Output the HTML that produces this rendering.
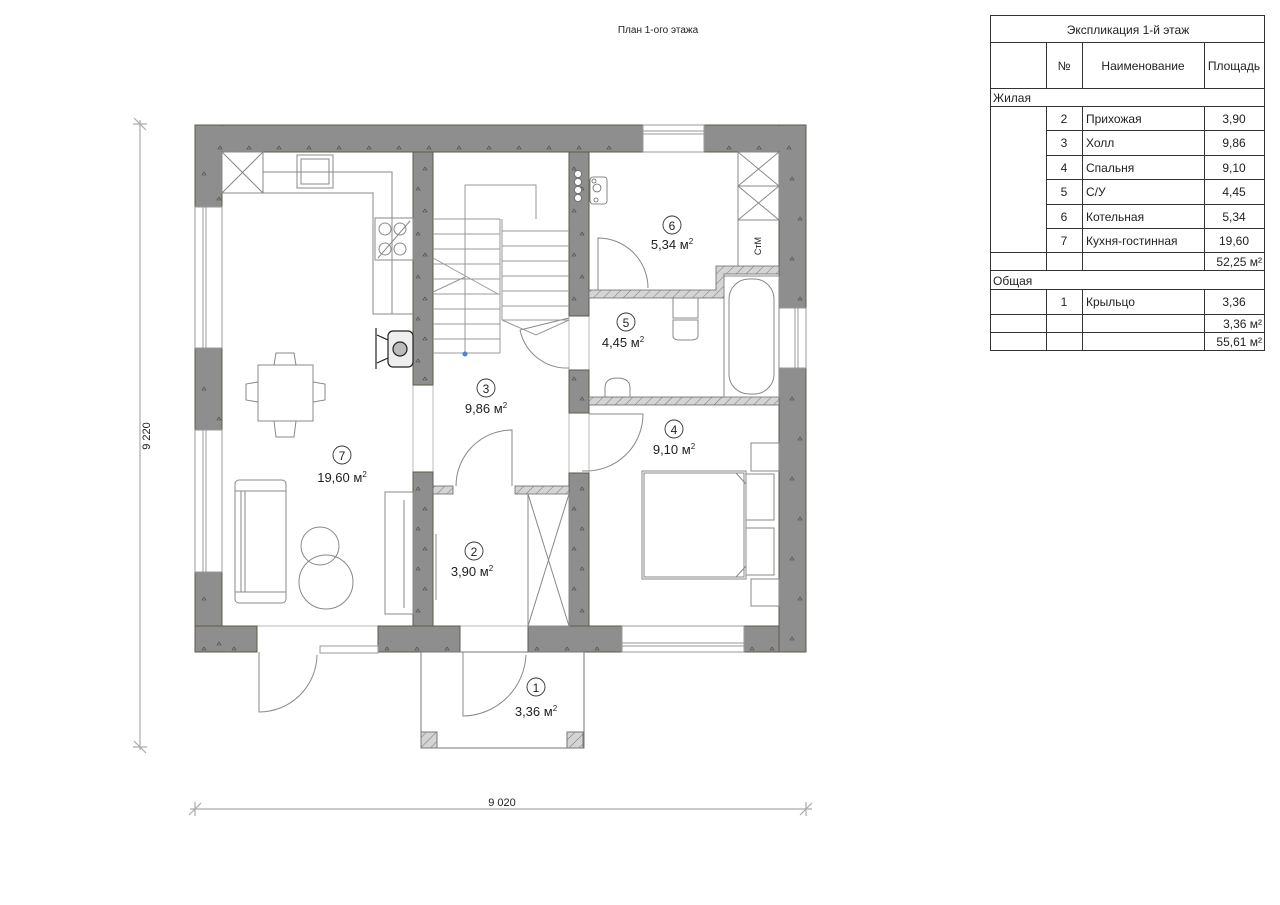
<!DOCTYPE html>
<html><head><meta charset="utf-8">
<style>
html,body{margin:0;padding:0;background:#fff;}
svg{display:block;font-family:"Liberation Sans","DejaVu Sans",sans-serif;}
</style></head>
<body>
<svg width="1280" height="905" viewBox="0 0 1280 905" xmlns="http://www.w3.org/2000/svg">
<defs>
<pattern id="h" width="7" height="7" patternUnits="userSpaceOnUse" patternTransform="rotate(45)">
<rect width="7" height="7" fill="#d4d4d4"/><line x1="0" y1="0" x2="0" y2="7" stroke="#777" stroke-width="1"/>
</pattern>
</defs>
<rect width="1280" height="905" fill="#fff"/>
<text x="658" y="33" font-size="10" text-anchor="middle" fill="#222">План 1-ого этажа</text>

<!-- dimension lines -->
<g stroke="#aaa" stroke-width="1.2" fill="none">
<line x1="140" y1="120" x2="140" y2="750"/>
<line x1="134" y1="118" x2="146" y2="130"/><line x1="134" y1="741" x2="146" y2="753"/>
<line x1="133" y1="124" x2="147" y2="124"/><line x1="133" y1="747" x2="147" y2="747"/>
<line x1="190" y1="809" x2="812" y2="809"/>
<line x1="189" y1="815" x2="201" y2="803"/><line x1="800" y1="815" x2="812" y2="803"/>
<line x1="195" y1="802" x2="195" y2="816"/><line x1="806" y1="802" x2="806" y2="816"/>
</g>
<text x="150" y="436" font-size="11" fill="#222" text-anchor="middle" transform="rotate(-90 150 436)">9 220</text>
<text x="502" y="806" font-size="11" fill="#222" text-anchor="middle">9 020</text>

<!-- floor thin outlines -->
<g stroke="#bbb" stroke-width="1" fill="none">
<line x1="222" y1="626" x2="779" y2="626"/>
<line x1="413" y1="385" x2="413" y2="472"/>
<line x1="569" y1="316" x2="569" y2="370"/>
<line x1="569" y1="413" x2="569" y2="473"/>
<line x1="589" y1="316" x2="589" y2="370"/>
<line x1="589" y1="413" x2="589" y2="473"/>
<line x1="433" y1="385" x2="433" y2="472"/>
</g>

<!-- walls -->
<g fill="#8e8e8e" stroke="#5e5a48" stroke-width="1">
<rect x="195" y="125" width="448" height="27"/>
<rect x="704" y="125" width="102" height="27"/>
<rect x="195" y="125" width="27" height="82"/>
<rect x="195" y="348" width="27" height="82"/>
<rect x="195" y="572" width="27" height="80"/>
<rect x="195" y="626" width="62" height="26"/>
<rect x="378" y="626" width="82" height="26"/>
<rect x="528" y="626" width="94" height="26"/>
<rect x="744" y="626" width="62" height="26"/>
<rect x="779" y="125" width="27" height="183"/>
<rect x="779" y="368" width="27" height="284"/>
<rect x="413" y="152" width="20" height="233"/>
<rect x="413" y="472" width="20" height="154"/>
<rect x="569" y="152" width="20" height="164"/>
<rect x="569" y="370" width="20" height="43"/>
<rect x="569" y="473" width="20" height="153"/>
</g>
<g fill="#8e8e8e">
<rect x="196" y="126" width="446" height="25"/><rect x="705" y="126" width="100" height="25"/>
<rect x="196" y="126" width="25" height="80"/><rect x="780" y="126" width="25" height="181"/>
<rect x="196" y="627" width="25" height="24"/><rect x="780" y="627" width="25" height="24"/>
</g>
<!-- triangle marks on walls -->
<g fill="none" stroke="#444" stroke-width="0.6" font-size="6">
<path d="M218 149l2-3 2 3z M247 149l2-3 2 3z M277 149l2-3 2 3z M307 149l2-3 2 3z M337 149l2-3 2 3z M367 149l2-3 2 3z M397 149l2-3 2 3z M427 149l2-3 2 3z M457 149l2-3 2 3z M487 149l2-3 2 3z M517 149l2-3 2 3z M547 149l2-3 2 3z M577 149l2-3 2 3z M607 149l2-3 2 3z M727 149l2-3 2 3z M757 149l2-3 2 3z M787 149l2-3 2 3z"/>
<path d="M202 175l2-3 2 3z M202 390l2-3 2 3z M202 600l2-3 2 3z M217 200l2-3 2 3z M217 420l2-3 2 3z M217 645l2-3 2 3z M790 180l2-3 2 3z M798 220l2-3 2 3z M790 260l2-3 2 3z M798 300l2-3 2 3z M790 400l2-3 2 3z M798 440l2-3 2 3z M790 480l2-3 2 3z M798 520l2-3 2 3z M790 560l2-3 2 3z M798 600l2-3 2 3z M790 640l2-3 2 3z"/>
<path d="M423 170l2-3 2 3z M416 190l2-3 2 3z M423 212l2-3 2 3z M416 235l2-3 2 3z M423 256l2-3 2 3z M416 278l2-3 2 3z M423 300l2-3 2 3z M416 320l2-3 2 3z M423 340l2-3 2 3z M416 362l2-3 2 3z M423 380l2-3 2 3z M416 490l2-3 2 3z M423 510l2-3 2 3z M416 530l2-3 2 3z M423 550l2-3 2 3z M416 570l2-3 2 3z M423 590l2-3 2 3z M416 612l2-3 2 3z"/>
<path d="M572 170l2-3 2 3z M580 190l2-3 2 3z M572 212l2-3 2 3z M580 235l2-3 2 3z M572 256l2-3 2 3z M580 278l2-3 2 3z M572 300l2-3 2 3z M572 380l2-3 2 3z M580 400l2-3 2 3z M580 490l2-3 2 3z M572 510l2-3 2 3z M580 530l2-3 2 3z M572 550l2-3 2 3z M580 570l2-3 2 3z M572 590l2-3 2 3z M580 612l2-3 2 3z"/>
<path d="M202 650l2-3 2 3z M232 650l2-3 2 3z M385 650l2-3 2 3z M415 650l2-3 2 3z M445 650l2-3 2 3z M535 650l2-3 2 3z M565 650l2-3 2 3z M595 650l2-3 2 3z M750 650l2-3 2 3z M770 650l2-3 2 3z"/>
</g>

<!-- windows -->
<g stroke="#999" stroke-width="1" fill="#fff">
<rect x="643" y="125" width="61" height="27"/>
<line x1="643" y1="131" x2="704" y2="131"/><line x1="643" y1="134" x2="704" y2="134"/>
<rect x="195" y="207" width="27" height="141"/>
<line x1="203" y1="207" x2="203" y2="348"/><line x1="206" y1="207" x2="206" y2="348"/>
<rect x="195" y="430" width="27" height="142"/>
<line x1="203" y1="430" x2="203" y2="572"/><line x1="206" y1="430" x2="206" y2="572"/>
<rect x="779" y="308" width="27" height="60"/>
<line x1="795" y1="308" x2="795" y2="368"/><line x1="798" y1="308" x2="798" y2="368"/>
<rect x="622" y="626" width="122" height="26"/>
<line x1="622" y1="643" x2="744" y2="643"/><line x1="622" y1="646" x2="744" y2="646"/>
<rect x="320" y="646" width="58" height="7"/>
</g>

<!-- hatched partitions -->
<g fill="url(#h)" stroke="#666" stroke-width="0.8">
<path d="M589 290 H716 V266 H779 V274 H724 V298 H589 Z"/>
<rect x="589" y="397" width="190" height="8"/>
<rect x="433" y="486" width="20" height="8"/>
<rect x="515" y="486" width="54" height="8"/>
</g>

<!-- porch -->
<g stroke="#777" stroke-width="1" fill="none">
<rect x="421" y="652" width="163" height="96"/>
<rect x="421" y="732" width="16" height="16" fill="url(#h)"/>
<rect x="567" y="732" width="16" height="16" fill="url(#h)"/>
</g>

<!-- doors -->
<g stroke="#888" stroke-width="1" fill="none">
<path d="M259 652 V712 A58 58 0 0 0 317 655"/>
<path d="M463 652 V716 A64 64 0 0 0 526 655"/>
<path d="M512 486 V430 A56 56 0 0 0 456 486"/>
<path d="M598 290 V238 A50 50 0 0 1 648 288"/>
<path d="M520 330 L569 318 M520 330 A48 48 0 0 0 569 368"/>
<path d="M589 471 H582 M589 414 H643 A57 57 0 0 1 584 471"/>
</g>

<!-- kitchen -->
<g stroke="#888" stroke-width="1" fill="none">
<rect x="222" y="152" width="41" height="41"/>
<path d="M222 152 L263 193 M263 152 L222 193"/>
<path d="M263 172 H392 V314 M263 193 H373 V314 H413"/>
<rect x="297" y="155" width="36" height="33"/><rect x="301" y="159" width="28" height="25"/>
<rect x="375" y="218" width="38" height="42"/>
<circle cx="385" cy="229" r="6"/><circle cx="400" cy="229" r="6"/><circle cx="385" cy="249" r="6"/><circle cx="400" cy="249" r="6"/>
<line x1="378" y1="258" x2="410" y2="221"/>
</g>
<!-- fireplace -->
<g stroke="#222" stroke-width="1.2" fill="#eee">
<rect x="388" y="331" width="25" height="36" rx="5"/>
<line x1="376" y1="328" x2="376" y2="369"/>
<path d="M377 335 L388 340 M377 363 L388 358" fill="none"/>
<circle cx="400" cy="349" r="7" fill="#bbb"/>
</g>

<!-- stairs -->
<g stroke="#999" stroke-width="1" fill="none">
<path d="M465 353 V185 H536 V219"/>
<path d="M500 219 V353 M433 219 H500"/>
<path d="M433 234H500M433 249H500M433 264H500M433 279H500M433 294H500M433 309H500M433 324H500M433 339H500M433 353H500"/>
<path d="M502 231H569M502 246H569M502 261H569M502 276H569M502 291H569M502 306H569M502 320H569"/>
<path d="M502 219 V320 M502 320 L536 335 L569 320"/>
<path d="M433 258 L498 294 M433 292 L465 277"/>
</g>
<circle cx="465" cy="354" r="2.5" fill="#4a86d8"/>
<!-- boiler stuff -->
<g fill="#fff" stroke="#666" stroke-width="0.8">
<circle cx="578" cy="174" r="3.5"/><circle cx="578" cy="182" r="3.5"/><circle cx="578" cy="190" r="3.5"/><circle cx="578" cy="198" r="3.5"/>
<rect x="590" y="177" width="17" height="27" rx="3"/>
<circle cx="597" cy="188" r="4"/><circle cx="596" cy="200" r="2"/><circle cx="594" cy="181" r="2"/>
</g>
<g stroke="#888" stroke-width="1" fill="none">
<rect x="738" y="152" width="41" height="68"/><line x1="738" y1="186" x2="779" y2="186"/>
<path d="M738 152 L779 186 M779 152 L738 186 M738 186 L779 220 M779 186 L738 220"/>
<path d="M738 220 V266"/>
<!-- bath -->
<rect x="724" y="276" width="55" height="121"/>
<rect x="729" y="279" width="45" height="115" rx="20"/>
<!-- toilet -->
<path d="M673 298 H698 V318 H673 Z M673 320 H698 V336 Q698 340 690 340 H680 Q673 340 673 336 Z"/>
<!-- sink -->
<path d="M605 397 V388 Q605 378 617 378 Q630 378 630 388 V397"/>
<!-- bed -->
<rect x="642" y="471" width="104" height="108"/><rect x="644" y="473" width="100" height="104"/>
<path d="M736 473 L746 484 M736 577 L746 566"/>
<rect x="746" y="474" width="28" height="46"/><rect x="746" y="528" width="28" height="47"/>
<rect x="751" y="443" width="28" height="28"/><rect x="751" y="579" width="28" height="27"/>
<!-- entry wardrobe -->
<rect x="528" y="494" width="41" height="132"/>
<path d="M528 494 L569 626 M569 494 L528 626"/>
<!-- dining -->
<rect x="258" y="365" width="55" height="56"/>
<path d="M274 365 L276 353 H294 L296 365 M274 421 L276 437 H294 L296 421 M258 382 L246 384 V400 L258 402 M313 382 L325 384 V400 L313 402"/>
<!-- sofa -->
<rect x="235" y="480" width="51" height="123" rx="4"/>
<rect x="235" y="491" width="51" height="101"/>
<line x1="245" y1="491" x2="245" y2="592"/><line x1="241" y1="491" x2="241" y2="592"/>
<circle cx="320" cy="546" r="19"/><circle cx="326" cy="582" r="27"/>
<!-- tv -->
<rect x="385" y="492" width="28" height="122"/>
<line x1="404" y1="500" x2="404" y2="608"/><line x1="436" y1="534" x2="436" y2="600"/>
</g>
<text x="761" y="246" font-size="9" fill="#222" text-anchor="middle" transform="rotate(-90 761 246)">СтМ</text>

<!-- room labels -->
<g font-size="13" fill="#222" text-anchor="middle">
<g fill="none" stroke="#333" stroke-width="0.9">
<circle cx="672" cy="225" r="9"/><circle cx="626" cy="322" r="9"/><circle cx="486" cy="388" r="9"/>
<circle cx="674" cy="429" r="9"/><circle cx="342" cy="455" r="9"/><circle cx="474" cy="551" r="9"/><circle cx="536" cy="687" r="9"/>
</g>
<text x="672" y="230" font-size="12">6</text><text x="672" y="249">5,34 м<tspan font-size="8" dy="-5">2</tspan></text>
<text x="626" y="327" font-size="12">5</text><text x="623" y="347">4,45 м<tspan font-size="8" dy="-5">2</tspan></text>
<text x="486" y="393" font-size="12">3</text><text x="486" y="413">9,86 м<tspan font-size="8" dy="-5">2</tspan></text>
<text x="674" y="434" font-size="12">4</text><text x="674" y="454">9,10 м<tspan font-size="8" dy="-5">2</tspan></text>
<text x="342" y="460" font-size="12">7</text><text x="342" y="482">19,60 м<tspan font-size="8" dy="-5">2</tspan></text>
<text x="474" y="556" font-size="12">2</text><text x="472" y="576">3,90 м<tspan font-size="8" dy="-5">2</tspan></text>
<text x="536" y="692" font-size="12">1</text><text x="536" y="716">3,36 м<tspan font-size="8" dy="-5">2</tspan></text>
</g>

<!-- table -->
<g stroke="#333" stroke-width="1" fill="none">
<rect x="990.5" y="15.5" width="274" height="335"/>
<line x1="990" y1="42.5" x2="1265" y2="42.5"/>
<line x1="990" y1="88.5" x2="1265" y2="88.5"/>
<line x1="990" y1="106.5" x2="1265" y2="106.5"/>
<line x1="1046" y1="130.5" x2="1265" y2="130.5"/>
<line x1="1046" y1="155.5" x2="1265" y2="155.5"/>
<line x1="1046" y1="179.5" x2="1265" y2="179.5"/>
<line x1="1046" y1="204.5" x2="1265" y2="204.5"/>
<line x1="1046" y1="228.5" x2="1265" y2="228.5"/>
<line x1="990" y1="252.5" x2="1265" y2="252.5"/>
<line x1="990" y1="270.5" x2="1265" y2="270.5"/>
<line x1="990" y1="289.5" x2="1265" y2="289.5"/>
<line x1="990" y1="314.5" x2="1265" y2="314.5"/>
<line x1="990" y1="332.5" x2="1265" y2="332.5"/>
<line x1="1046.5" y1="42" x2="1046.5" y2="88"/><line x1="1082.5" y1="42" x2="1082.5" y2="88"/><line x1="1204.5" y1="42" x2="1204.5" y2="88"/>
<line x1="1046.5" y1="106" x2="1046.5" y2="270"/><line x1="1082.5" y1="106" x2="1082.5" y2="270"/><line x1="1204.5" y1="106" x2="1204.5" y2="270"/>
<line x1="1046.5" y1="289" x2="1046.5" y2="350"/><line x1="1082.5" y1="289" x2="1082.5" y2="350"/><line x1="1204.5" y1="289" x2="1204.5" y2="350"/>
</g>
<g font-size="12" fill="#222">
<text x="1128" y="34" text-anchor="middle">Экспликация 1-й этаж</text>
<text x="1064" y="70" text-anchor="middle">№</text>
<text x="1143" y="70" text-anchor="middle">Наименование</text>
<text x="1234" y="70" text-anchor="middle">Площадь</text>
<text x="993" y="102">Жилая</text>
<g text-anchor="middle">
<text x="1064" y="123">2</text><text x="1064" y="147">3</text><text x="1064" y="172">4</text><text x="1064" y="196">5</text><text x="1064" y="221">6</text><text x="1064" y="245">7</text>
<text x="1234" y="123">3,90</text><text x="1234" y="147">9,86</text><text x="1234" y="172">9,10</text><text x="1234" y="196">4,45</text><text x="1234" y="221">5,34</text><text x="1234" y="245">19,60</text>
<text x="1064" y="306">1</text><text x="1234" y="306">3,36</text>
</g>
<text x="1086" y="123">Прихожая</text><text x="1086" y="147">Холл</text><text x="1086" y="172">Спальня</text><text x="1086" y="196">С/У</text><text x="1086" y="221">Котельная</text><text x="1086" y="245">Кухня-гостинная</text>
<text x="1086" y="306">Крыльцо</text>
<text x="1262" y="266" text-anchor="end">52,25 м²</text>
<text x="993" y="285">Общая</text>
<text x="1262" y="328" text-anchor="end">3,36 м²</text>
<text x="1262" y="346" text-anchor="end">55,61 м²</text>
</g>
</svg>
</body></html>
